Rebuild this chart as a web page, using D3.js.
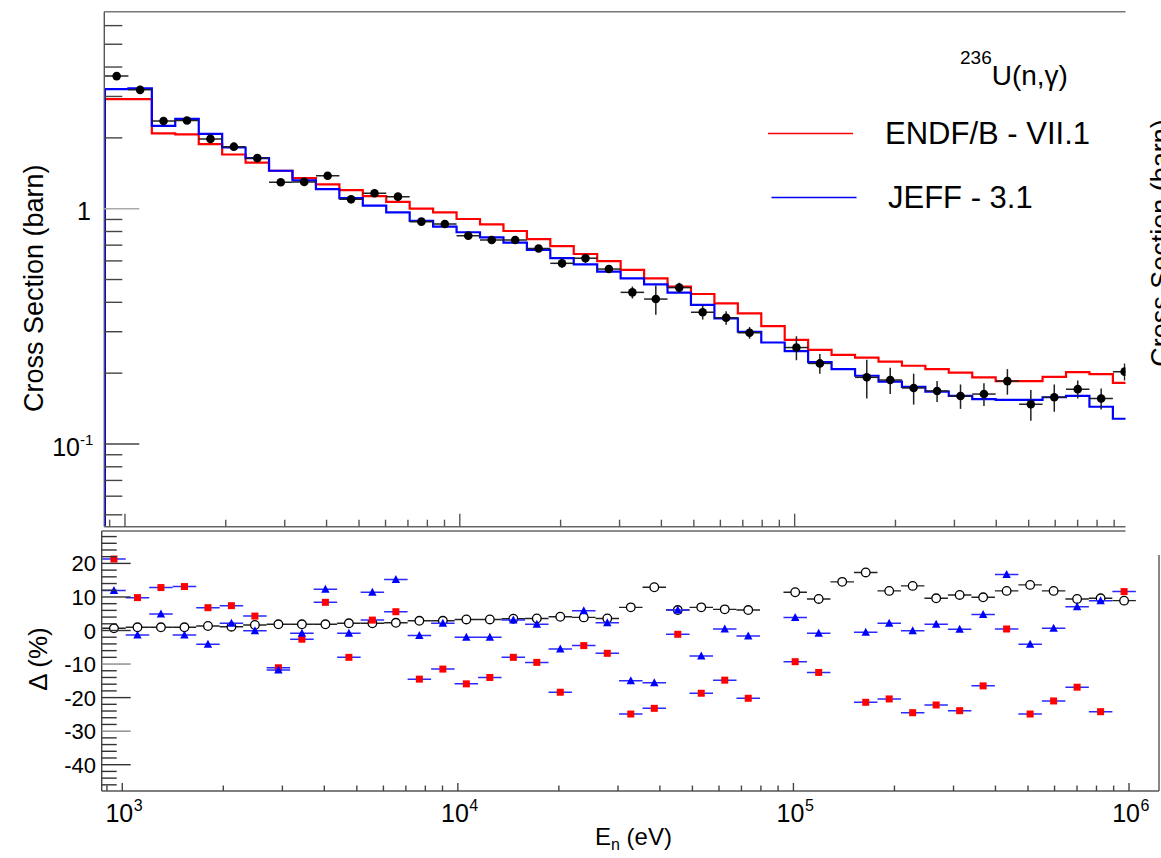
<!DOCTYPE html>
<html><head><meta charset="utf-8">
<script src="https://cdn.jsdelivr.net/npm/d3@7"></script>
<style>
body{margin:0;background:#fff}
text{font-family:"Liberation Sans",Arial,Helvetica,sans-serif;fill:#000}
</style>
</head><body>
<svg id="c" width="1161" height="858"></svg>
<script>
// ---------- DATA ----------
// bin edges (eV), 44 bins
const binEdges = [871, 1024, 1203, 1413, 1661, 1951, 2292, 2693, 3164, 3718, 4368, 5132, 6029, 7084, 8323, 9779,
  11490, 13500, 15860, 18630, 21890, 25720, 30220, 35510, 41720, 49010, 57590, 67660, 79490, 93390,
  109700, 128900, 151500, 178000, 209100, 245700, 288600, 339100, 398400, 468100, 550000, 646200, 759200, 892000, 1048000];
// ENDF/B-VII.1 group cross sections (barn)
const endfXS = [2.92, 2.92, 2.09, 2.07, 1.88, 1.70, 1.57, 1.45, 1.35, 1.27,
  1.20, 1.13, 1.07, 1.00, 0.965, 0.904, 0.858, 0.804, 0.743, 0.694,
  0.642, 0.599, 0.549, 0.506, 0.466, 0.434, 0.396, 0.359, 0.317, 0.277,
  0.251, 0.239, 0.233, 0.224, 0.215, 0.208, 0.201, 0.192, 0.185, 0.185,
  0.193, 0.202, 0.198, 0.182];
// JEFF-3.1 group cross sections (barn)
const jeffXS = [3.22, 3.25, 2.25, 2.41, 2.08, 1.82, 1.64, 1.45, 1.32, 1.21,
  1.11, 1.03, 0.965, 0.887, 0.839, 0.794, 0.756, 0.717, 0.668, 0.616,
  0.580, 0.540, 0.506, 0.477, 0.440, 0.390, 0.342, 0.300, 0.270, 0.248,
  0.223, 0.208, 0.195, 0.184, 0.175, 0.167, 0.160, 0.155, 0.154, 0.154,
  0.158, 0.160, 0.144, 0.128];
// measured cross section (barn) and its uncertainty
const measXS = [3.66, 3.20, 2.36, 2.37, 1.98, 1.835, 1.64, 1.295, 1.30, 1.38,
  1.096, 1.163, 1.125, 0.881, 0.861, 0.768, 0.736, 0.736, 0.677, 0.586,
  0.616, 0.554, 0.441, 0.413, 0.462, 0.363, 0.344, 0.297, null, 0.257,
  0.220, null, 0.192, 0.187, 0.173, 0.168, 0.160, 0.163, 0.185, 0.1475,
  0.158, 0.171, 0.156, 0.203];
const measErr = [0.05, 0.05, 0.04, 0.04, 0.03, 0.03, 0.025, 0.02, 0.02, 0.02,
  0.015, 0.015, 0.015, 0.012, 0.012, 0.012, 0.012, 0.012, 0.012, 0.026,
  0.028, 0.016, 0.026, 0.059, 0.023, 0.025, 0.023, 0.017, null, 0.030,
  0.021, null, 0.036, 0.024, 0.026, 0.017, 0.019, 0.018, 0.023, 0.022,
  0.021, 0.015, 0.016, 0.017];
// lower panel: deviations (%)
const uncPct = [0.66, 0.95, 0.95, 0.95, 1.34, 1.13, 1.64, 1.85, 1.85, 1.85,
  2.15, 2.15, 2.3, 2.9, 2.9, 3.3, 3.3, 3.5, 3.6, 4.1,
  3.9, 3.6, 6.9, 12.9, 6.1, 6.9, 6.3, 6.1, null, 11.4,
  9.4, 14.5, 17.3, 11.8, 13.3, 9.6, 10.6, 9.9, 11.8, 13.6,
  11.8, 9.4, 9.6, 8.9];
const jeffDev = [11.9, -1.34, 4.9, -1.34, -4.1, 2.15, -0.06, -11.8, -0.85, 12.3,
  -0.85, 11.4, 15.2, -1.5, 2.15, -2.0, -2.0, 3.1, 1.85, -5.5,
  5.9, 2.3, -15.0, -15.6, 6.1, -7.6, 0.45, -1.64, null, 3.9,
  -0.85, null, -0.55, 2.15, -0.06, 1.85, 0.35, 4.8, 16.7, -4.1,
  0.66, 7.1, 8.9, null];
const endfDev = [21.3, 9.8, 12.8, 13.1, 6.8, 7.4, 4.3, -11.1, -2.6, 8.4,
  -8.0, 3.1, 5.6, -14.5, -11.5, -15.9, -14.0, -8.0, -9.5, -18.4,
  -4.5, -6.8, -24.9, -23.2, -1.13, -18.7, -14.8, -20.2, null, -9.3,
  -12.5, null, -21.4, -20.4, -24.5, -22.2, -23.9, -16.5, 0.45, -24.9,
  -21.0, -16.9, -24.2, 11.6];
// tick labels
const topYTickVals = [0.1, 1];
const topYTickLabels = [["10", "-1"], ["1", ""]];
const botXTickVals = [1e3, 1e4, 1e5, 1e6];
const botXTickLabels = [["10", "3"], ["10", "4"], ["10", "5"], ["10", "6"]];
const devTickVals = [20, 10, 0, -10, -20, -30, -40];
const legendNames = ["ENDF/B - VII.1", "JEFF - 3.1"];
const legendColors = ["#ff0000", "#0000ff"];

// ---------- LAYOUT ----------
const svg = d3.select("#c");
svg.append("rect").attr("width", 1161).attr("height", 858).attr("fill", "#fff");

const T = {left: 104.3, right: 1125.5, top: 11.7, bottom: 526.7};
const B = {left: 101.7, right: 1159, top: 531, bottom: 791};

const xT = d3.scaleLog().domain([867.5, 972860]).range([T.left, T.right]);
const yT = d3.scaleLog().domain([0.04451, 6.875]).range([T.bottom, T.top]);
const xB = d3.scaleLog().domain([868.3, 1228500]).range([B.left, B.right]);
const yB = d3.scaleLinear().domain([-47.84, 29.66]).range([B.bottom, B.top]);

const defs = svg.append("defs");
defs.append("clipPath").attr("id", "clipT").append("rect")
  .attr("x", T.left).attr("y", T.top).attr("width", T.right - T.left).attr("height", T.bottom - T.top);
defs.append("clipPath").attr("id", "clipB").append("rect")
  .attr("x", B.left).attr("y", B.top).attr("width", B.right - B.left).attr("height", B.bottom - B.top);

// ---------- TOP PANEL ----------
const gT = svg.append("g").attr("clip-path", "url(#clipT)");
function histPath(vals) {
  let d = `M${xT(binEdges[0])},${T.bottom}`;
  vals.forEach((v, i) => { d += `V${yT(v)}H${xT(binEdges[i + 1])}`; });
  d += `V${T.bottom}`;
  return d;
}
gT.append("path").attr("d", histPath(endfXS)).attr("fill", "none").attr("stroke", "#ff0000").attr("stroke-width", 2.2);
gT.append("path").attr("d", histPath(jeffXS)).attr("fill", "none").attr("stroke", "#0000ff").attr("stroke-width", 2.2);

const meas = measXS.map((v, i) => ({i, v, e: measErr[i]})).filter(d => d.v !== null);
gT.selectAll("line.hx").data(meas).join("line")
  .attr("x1", d => xT(binEdges[d.i])).attr("x2", d => xT(binEdges[d.i + 1]))
  .attr("y1", d => yT(d.v)).attr("y2", d => yT(d.v))
  .attr("stroke", "#222").attr("stroke-width", 1.5);
gT.selectAll("line.vx").data(meas).join("line")
  .attr("x1", d => xT(Math.sqrt(binEdges[d.i] * binEdges[d.i + 1])))
  .attr("x2", d => xT(Math.sqrt(binEdges[d.i] * binEdges[d.i + 1])))
  .attr("y1", d => yT(d.v - d.e)).attr("y2", d => yT(d.v + d.e))
  .attr("stroke", "#222").attr("stroke-width", 1.5);
gT.selectAll("circle.pt").data(meas).join("circle")
  .attr("cx", d => xT(Math.sqrt(binEdges[d.i] * binEdges[d.i + 1])))
  .attr("cy", d => yT(d.v)).attr("r", 4.3).attr("fill", "#000");

// top axes
const axT = svg.append("g").attr("stroke", "#555").attr("stroke-width", 1.4);
axT.append("line").attr("x1", T.left).attr("x2", T.right).attr("y1", T.top).attr("y2", T.top).attr("stroke", "#777");
axT.append("line").attr("x1", T.left).attr("x2", T.left).attr("y1", T.top).attr("y2", T.bottom);
axT.append("line").attr("x1", T.left).attr("x2", T.right).attr("y1", T.bottom).attr("y2", T.bottom).attr("stroke", "#666");
yT.ticks().forEach(t => {
  const major = Math.abs(Math.log10(t) - Math.round(Math.log10(t))) < 1e-9;
  axT.append("line").attr("x1", T.left).attr("x2", T.left + (major ? 35 : 18))
    .attr("y1", yT(t)).attr("y2", yT(t)).attr("stroke", major && t === 1 ? "#aaa" : "#444");
});
xT.ticks().forEach(t => {
  const major = Math.abs(Math.log10(t) - Math.round(Math.log10(t))) < 1e-9;
  axT.append("line").attr("x1", xT(t)).attr("x2", xT(t))
    .attr("y1", T.bottom).attr("y2", T.bottom - (major ? 13 : 7)).attr("stroke", "#555");
});
topYTickVals.forEach((v, k) => {
  const [base, ex] = topYTickLabels[k];
  const y = yT(v);
  if (ex) {
    svg.append("text").attr("x", 80).attr("y", y + 12.5).attr("text-anchor", "end")
      .attr("font-size", 25).text(base);
    svg.append("text").attr("x", 80).attr("y", y + 1.5).attr("font-size", 15).text(ex);
  } else {
    svg.append("text").attr("x", 91).attr("y", y + 11).attr("text-anchor", "end")
      .attr("font-size", 25).text(base);
  }
});
svg.append("text").attr("transform", `translate(43,${(T.top + T.bottom) / 2 + 19}) rotate(-90)`)
  .attr("text-anchor", "middle").attr("font-size", 27).text("Cross Section (barn)");
svg.append("text").attr("transform", `translate(1169.5,243) rotate(-90)`)
  .attr("text-anchor", "middle").attr("font-size", 27).text("Cross Section (barn)");

// title & legend
const title = svg.append("text").attr("x", 960).attr("y", 85);
title.append("tspan").attr("font-size", 19).attr("dy", -21).text("236");
title.append("tspan").attr("font-size", 28).attr("dy", 21).text("U(n,γ)");
legendNames.forEach((name, k) => {
  const y = [133.5, 197.5][k];
  const x0 = [768, 771.5][k];
  svg.append("line").attr("x1", x0).attr("x2", x0 + 85).attr("y1", y).attr("y2", y)
    .attr("stroke", legendColors[k]).attr("stroke-width", 1.3);
  svg.append("text").attr("x", [885, 888][k]).attr("y", y + 10.5).attr("font-size", 31).text(name);
});

// ---------- BOTTOM PANEL ----------
const gB = svg.append("g").attr("clip-path", "url(#clipB)");
const cx = i => xB(Math.sqrt(binEdges[i] * binEdges[i + 1]));
function devSeries(arr) { return arr.map((v, i) => ({i, v})).filter(d => d.v !== null); }
const circ = devSeries(uncPct), tri = devSeries(jeffDev), sq = devSeries(endfDev);

gB.selectAll("line.hc").data(circ).join("line")
  .attr("x1", d => xB(binEdges[d.i])).attr("x2", d => xB(binEdges[d.i + 1]))
  .attr("y1", d => yB(d.v)).attr("y2", d => yB(d.v)).attr("stroke", "#222").attr("stroke-width", 1.4);
gB.selectAll("circle.oc").data(circ).join("circle")
  .attr("cx", d => cx(d.i)).attr("cy", d => yB(d.v)).attr("r", 4.3)
  .attr("fill", "#fff").attr("stroke", "#000").attr("stroke-width", 1.3);

gB.selectAll("line.hs").data(sq).join("line")
  .attr("x1", d => xB(binEdges[d.i])).attr("x2", d => xB(binEdges[d.i + 1]))
  .attr("y1", d => yB(d.v)).attr("y2", d => yB(d.v)).attr("stroke", "#2a2aff").attr("stroke-width", 1.5);
gB.selectAll("rect.sq").data(sq).join("rect")
  .attr("x", d => cx(d.i) - 3.5).attr("y", d => yB(d.v) - 3.5).attr("width", 7).attr("height", 7)
  .attr("fill", "#ff0000");

gB.selectAll("line.ht").data(tri).join("line")
  .attr("x1", d => xB(binEdges[d.i])).attr("x2", d => xB(binEdges[d.i + 1]))
  .attr("y1", d => yB(d.v)).attr("y2", d => yB(d.v)).attr("stroke", "#2a2aff").attr("stroke-width", 1.5);
gB.selectAll("path.tr").data(tri).join("path")
  .attr("d", d => { const x = cx(d.i), y = yB(d.v); return `M${x - 4.2},${y + 3.5}L${x + 4.2},${y + 3.5}L${x},${y - 4.5}Z`; })
  .attr("fill", "#0000ff");

// bottom axes
const axB = svg.append("g").attr("stroke", "#444").attr("stroke-width", 1.4);
axB.append("line").attr("x1", B.left).attr("x2", T.right).attr("y1", B.top).attr("y2", B.top).attr("stroke", "#666");
axB.append("line").attr("x1", B.left).attr("x2", B.left).attr("y1", B.top).attr("y2", B.bottom);
axB.append("line").attr("x1", B.left).attr("x2", B.right).attr("y1", B.bottom).attr("y2", B.bottom).attr("stroke", "#555");
axB.append("line").attr("x1", B.right).attr("x2", B.right).attr("y1", 555).attr("y2", B.bottom).attr("stroke", "#555");
d3.range(-46, 30, 2).forEach(t => {
  const major = t % 10 === 0;
  axB.append("line").attr("x1", B.left).attr("x2", B.left + (major ? 29 : 15))
    .attr("y1", yB(t)).attr("y2", yB(t)).attr("stroke", major && (t === -10 || t === -30) ? "#888" : "#333");
});
xB.ticks().forEach(t => {
  const major = Math.abs(Math.log10(t) - Math.round(Math.log10(t))) < 1e-9;
  axB.append("line").attr("x1", xB(t)).attr("x2", xB(t))
    .attr("y1", B.bottom).attr("y2", B.bottom - (major ? 8 : 5.5));
});
devTickVals.forEach(v => {
  svg.append("text").attr("x", 96).attr("y", yB(v) + 8).attr("text-anchor", "end")
    .attr("font-size", 22).text(v);
});
botXTickVals.forEach((v, k) => {
  const [base, ex] = botXTickLabels[k];
  const x = xB(v);
  svg.append("text").attr("x", x + 11).attr("y", 821.5).attr("text-anchor", "end").attr("font-size", 25).text(base);
  svg.append("text").attr("x", x + 11.5).attr("y", 811).attr("font-size", 16).text(ex);
});
svg.append("text").attr("transform", `translate(47,${yB(-8.5)}) rotate(-90)`)
  .attr("text-anchor", "middle").attr("font-size", 26).text("Δ (%)");
const xl = svg.append("text").attr("x", 595).attr("y", 845).attr("font-size", 24);
xl.append("tspan").text("E");
xl.append("tspan").attr("font-size", 16).attr("dy", 5).text("n");
xl.append("tspan").attr("dy", -5).text(" (eV)");
</script>
</body></html>
